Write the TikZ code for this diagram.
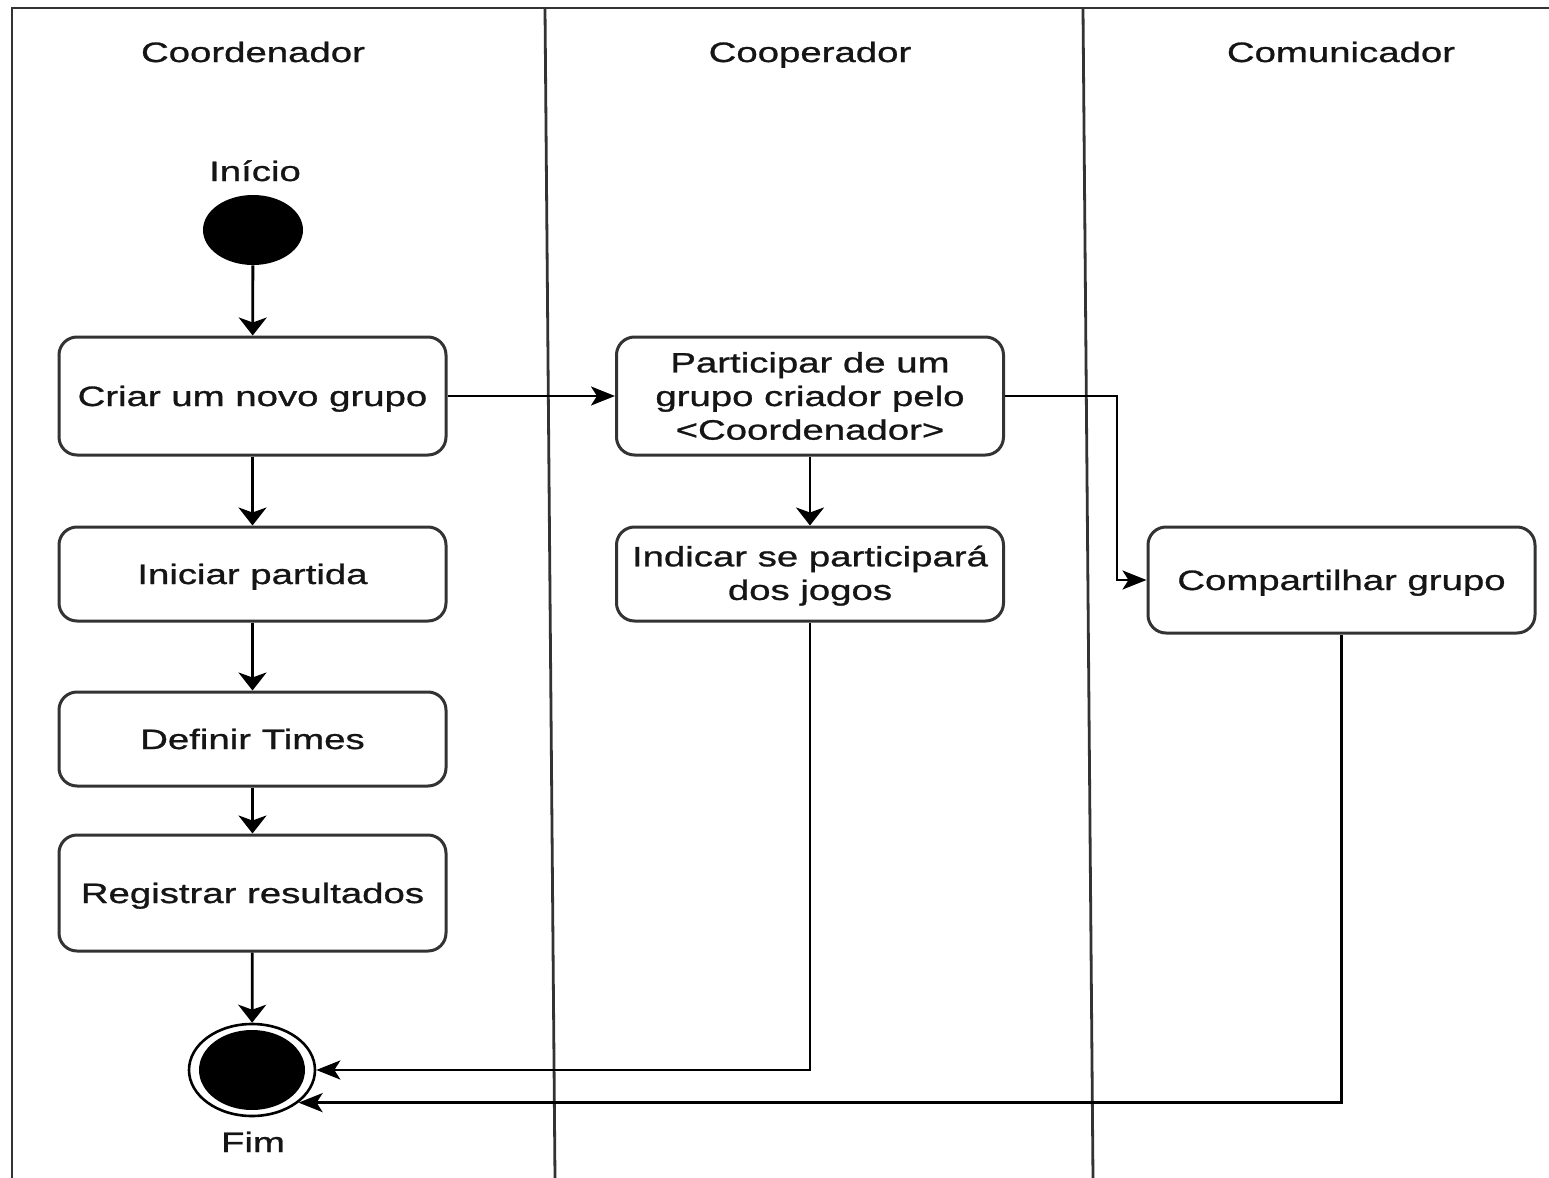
\documentclass[tikz,border=0pt]{standalone}
\usepackage{fontspec}
\setmainfont[FakeStretch=1.37,FakeBold=1.0]{Liberation Sans}
\usetikzlibrary{shapes.geometric,arrows.meta}
\definecolor{ln}{HTML}{333333}
\definecolor{txt}{HTML}{151515}
\begin{document}
\begin{tikzpicture}[x=0.5pt,y=-0.5pt,
  every node/.style={font=\fontsize{14pt}{16.8pt}\selectfont, text=txt},
  lbl/.style={text height=13pt, text depth=3pt},
  act/.style={draw=ln, line width=1.5pt, rounded corners=9pt, align=center, minimum width=193.5pt, inner sep=2pt},
  lane/.style={draw=ln, line width=1.4pt},
  conn/.style={draw=black, line width=1.4pt},
  harr/.style={conn, -{Stealth[length=12pt,width=9.5pt,inset=3pt]}},
  varr/.style={conn, -{Stealth[length=9pt,width=14pt,inset=2.5pt]}}]
\useasboundingbox (0,0) rectangle (1549,1178);
% frame and swimlanes
\draw[lane] (12,1178) -- (12,8) -- (1549,8);
\draw[lane] (545,8) -- (555,1178);
\draw[lane] (1083,8) -- (1093,1178);
\node[lbl] (t1) at (253,52) {Coordenador};
\node[lbl] (t2) at (810,52) {Cooperador};
\node[lbl] (t3) at (1341,52) {Comunicador};
% start
\node[lbl] (lini) at (255,171) {Início};
\node[ellipse, fill=black, minimum width=50pt, minimum height=35pt, inner sep=0pt] (start) at (253,230) {};
% activities
\node[act, lbl, minimum height=59pt] (criar) at (252.5,396) {Criar um novo grupo};
\node[act, lbl, minimum height=47pt] (inic) at (252.5,574) {Iniciar partida};
\node[act, lbl, minimum height=47pt] (defi) at (252.5,739) {Definir Times};
\node[act, lbl, minimum height=58pt] (regi) at (252.5,893) {Registrar resultados};
\node[act, minimum height=59pt] (part) at (810,396) {Participar de um\\grupo criador pelo\\<Coordenador>};
\node[act, minimum height=47pt] (indi) at (810,574) {\rule{0pt}{12pt}Indicar se participará\\dos jogos};
\node[act, lbl, minimum height=53pt] (comp) at (1341.5,580) {Compartilhar grupo};
% final
\node[ellipse, draw=black, line width=1.3pt, minimum width=63pt, minimum height=46pt, inner sep=0pt] (fim) at (252,1070) {};
\node[ellipse, fill=black, minimum width=53pt, minimum height=40pt, inner sep=0pt] (fimin) at (252,1070) {};
\node[lbl] (lfim) at (253,1142) {Fim};
% connectors
\draw[varr] (start) -- (criar);
\draw[varr] (criar) -- (inic);
\draw[varr] (inic) -- (defi);
\draw[varr] (defi) -- (regi);
\draw[varr] (regi) -- (fim);
\draw[harr] (criar) -- (part);
\draw[varr] (part) -- (indi);
\draw[harr] (part.east) -- ++(112,0) |- (comp.west);
\draw[harr] (indi.south) |- (fim.east);
\draw[harr] (comp.south) |- (fim.-35);
\end{tikzpicture}
\end{document}
